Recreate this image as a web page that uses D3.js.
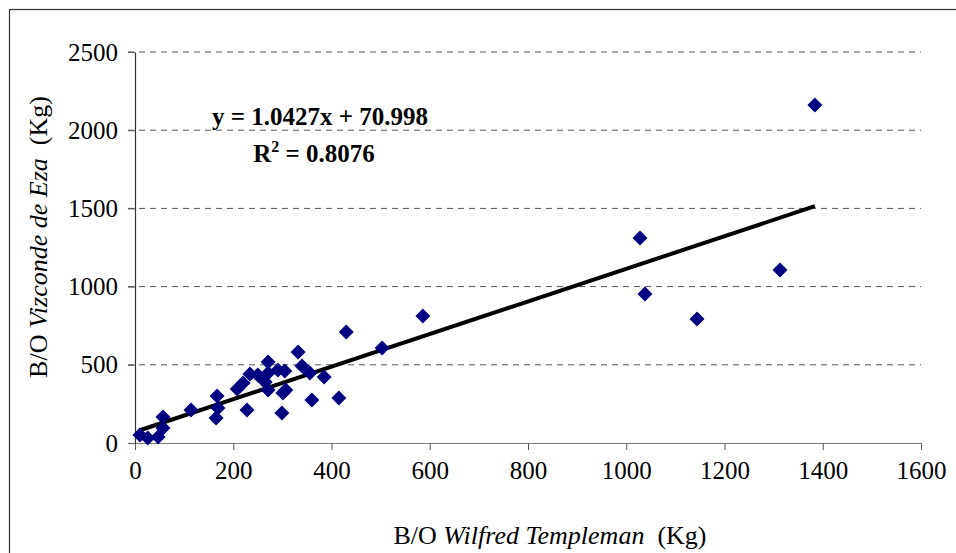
<!DOCTYPE html>
<html>
<head>
<meta charset="UTF-8">
<script src="https://cdn.jsdelivr.net/npm/d3@7"></script>
</head>
<body style="margin:0">
<script>
    // catch per haul, kg
    const templeman = [1384, 1028, 1313, 1038, 1144, 586, 430, 503, 332, 340, 271, 234, 250, 271, 291, 305, 356, 385,
        208, 220, 265, 271, 307, 301, 360, 228, 299, 415, 167, 169, 165, 114, 57, 57, 10, 26, 47]
    const vizconde = [2161, 1311, 1106, 953, 793, 812, 710, 607, 582, 492, 518, 441, 435, 448, 467, 460, 448, 422,
        345, 384, 390, 339, 339, 320, 275, 211, 192, 288, 301, 224, 160, 211, 96, 166, 51, 32, 38]

    const xTicks = [0, 200, 400, 600, 800, 1000, 1200, 1400, 1600]
    const yTicks = [0, 500, 1000, 1500, 2000, 2500]

    // linear trendline from the chart
    const slope = 1.0427
    const intercept = 70.998

    const width = 956
    const height = 553

    const serif = '"Liberation Serif"'

    const points = templeman.map((d, i) => [d, vizconde[i]])

    const xScale = d3.scaleLinear().domain([0, 1600]).range([135, 921])
    const yScale = d3.scaleLinear().domain([0, 2500]).range([443, 52])

    const svg = d3.select('body').append('svg')
        .attr('width', width)
        .attr('height', height)

    // outer frame
    svg.append('rect')
        .attr('x', 9.5)
        .attr('y', 9.5)
        .attr('width', 980)
        .attr('height', 600)
        .attr('fill', 'none')
        .attr('stroke', '#333')
        .attr('stroke-width', 1.2)

    // dashed gridlines
    svg.append('g')
        .selectAll('line')
        .data(yTicks.filter(d => d > 0))
        .enter()
        .append('line')
        .attr('x1', 128)
        .attr('x2', xScale(1600))
        .attr('y1', d => yScale(d))
        .attr('y2', d => yScale(d))
        .attr('stroke', '#555')
        .attr('stroke-width', 1)
        .attr('stroke-dasharray', '6,5')

    const xAxis = d3.axisBottom(xScale).tickValues(xTicks).tickFormat(d3.format('d'))
        .tickSize(7).tickSizeOuter(0).tickPadding(11)
    const yAxis = d3.axisLeft(yScale).tickValues(yTicks).tickFormat(d3.format('d'))
        .tickSize(7).tickSizeOuter(0).tickPadding(10)

    const gx = svg.append('g')
        .attr('transform', `translate(0, ${yScale(0)})`)
        .call(xAxis)
    gx.select('.domain').attr('stroke', '#777').attr('stroke-width', 1.2)
    gx.selectAll('.tick line').attr('stroke', '#555')
    gx.selectAll('.tick text')
        .attr('fill', '#000')
        .attr('font-family', serif)
        .attr('font-size', 25)

    const gy = svg.append('g')
        .attr('transform', `translate(${xScale(0)}, 0)`)
        .call(yAxis)
    gy.select('.domain').attr('stroke', '#333').attr('stroke-width', 1.2)
    gy.selectAll('.tick line').attr('stroke', '#555')
    gy.selectAll('.tick text')
        .attr('fill', '#000')
        .attr('font-family', serif)
        .attr('font-size', 25)

    // trendline
    const xMin = d3.min(templeman)
    const xMax = d3.max(templeman)
    svg.append('line')
        .attr('x1', xScale(xMin))
        .attr('y1', yScale(slope * xMin + intercept))
        .attr('x2', xScale(xMax))
        .attr('y2', yScale(slope * xMax + intercept))
        .attr('stroke', '#000')
        .attr('stroke-width', 4)

    // diamond markers
    const r = 7.5
    svg.append('g')
        .selectAll('path')
        .data(points)
        .enter()
        .append('path')
        .attr('d', d => {
            const cx = xScale(d[0]), cy = yScale(d[1])
            return `M${cx},${cy - r}L${cx + r},${cy}L${cx},${cy + r}L${cx - r},${cy}Z`
        })
        .attr('fill', '#000080')

    // equation labels
    svg.append('text')
        .attr('x', 320)
        .attr('y', 125)
        .attr('text-anchor', 'middle')
        .attr('font-family', serif)
        .attr('font-size', 25)
        .attr('font-weight', 'bold')
        .text('y = 1.0427x + 70.998')

    const r2 = svg.append('text')
        .attr('x', 314)
        .attr('y', 162)
        .attr('text-anchor', 'middle')
        .attr('font-family', serif)
        .attr('font-size', 25)
        .attr('font-weight', 'bold')
    r2.append('tspan').text('R')
    r2.append('tspan').attr('dy', -10).attr('font-size', 16).text('2')
    r2.append('tspan').attr('dy', 10).text(' = 0.8076')

    // axis titles
    const xt = svg.append('text')
        .attr('x', 550)
        .attr('y', 544)
        .attr('text-anchor', 'middle')
        .attr('font-family', serif)
        .attr('font-size', 26)
    xt.append('tspan').text('B/O ')
    xt.append('tspan').attr('font-style', 'italic').text('Wilfred Templeman')
    xt.append('tspan').text('\u00a0 (Kg)')

    const yt = svg.append('text')
        .attr('transform', 'translate(47, 237) rotate(-90)')
        .attr('text-anchor', 'middle')
        .attr('font-family', serif)
        .attr('font-size', 26)
    yt.append('tspan').text('B/O ')
    yt.append('tspan').attr('font-style', 'italic').text('Vizconde de Eza')
    yt.append('tspan').text('\u00a0 (Kg)')
</script>
</body>
</html>
